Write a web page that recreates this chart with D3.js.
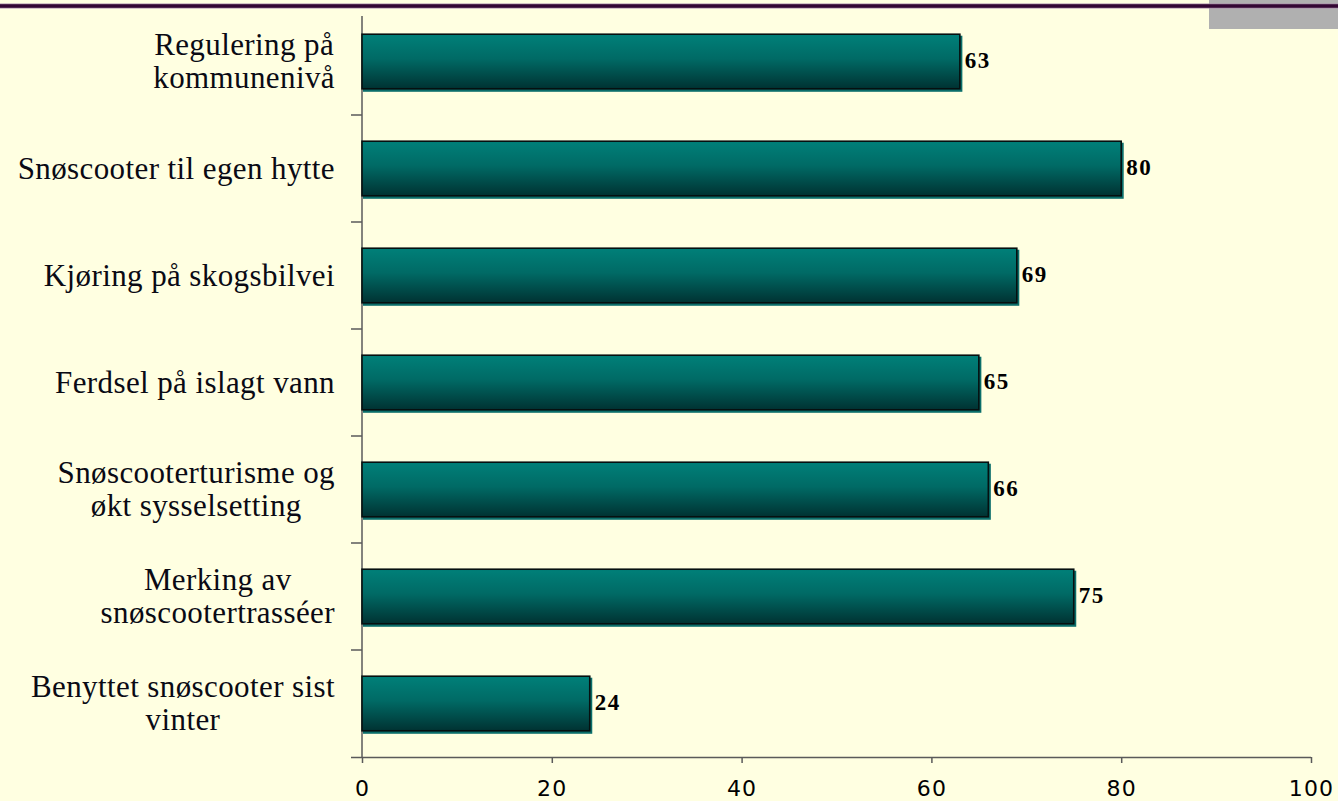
<!DOCTYPE html>
<html>
<head>
<meta charset="utf-8">
<script src="https://cdn.jsdelivr.net/npm/d3@7"></script>
<style>
  html, body { margin: 0; padding: 0; background: #ffffe1; }
  svg { display: block; }
</style>
</head>
<body>
<div id="chart"></div>
<script>
// ── Data ───────────────────────────────────────────────────
const categories = [
  'Regulering på\nkommunenivå',
  'Snøscooter til egen hytte',
  'Kjøring på skogsbilvei',
  'Ferdsel på islagt vann',
  'Snøscooterturisme og\nøkt sysselsetting',
  'Merking av\nsnøscootertrasséer',
  'Benyttet snøscooter sist\nvinter'
];
const values = [63, 80, 69, 65, 66, 75, 24];
const xTicks = [0, 20, 40, 60, 80, 100];

// ── Layout ─────────────────────────────────────────────────
const W = 1338, H = 801;
const m = { top: 8, right: 27, bottom: 44, left: 362 };
const serif = '"Liberation Serif", "Times New Roman", Times, serif';

const svg = d3.select('#chart').append('svg')
  .attr('width', W)
  .attr('height', H);

svg.append('rect')
  .attr('width', W).attr('height', H)
  .attr('fill', '#ffffe1');

const defs = svg.append('defs');
const grad = defs.append('linearGradient')
  .attr('id', 'barGrad')
  .attr('x1', '0%').attr('y1', '0%')
  .attr('x2', '0%').attr('y2', '100%');
grad.append('stop').attr('offset', '0%').attr('stop-color', '#008079');
grad.append('stop').attr('offset', '45%').attr('stop-color', '#006a65');
grad.append('stop').attr('offset', '100%').attr('stop-color', '#003232');

const x = d3.scaleLinear()
  .domain([0, 100])
  .range([m.left, W - m.right]);

const y = d3.scaleBand()
  .domain(categories)
  .range([m.top, H - m.bottom])
  .paddingInner(0.49)
  .paddingOuter(0.245);

const yStep = (H - m.bottom - m.top) / categories.length;

// ── Slide decoration (top rule + grey tab) ──────────────────
svg.append('rect')
  .attr('x', 1209).attr('y', 0)
  .attr('width', W - 1209).attr('height', 29)
  .attr('fill', '#b0b0b0');
svg.append('line')
  .attr('x1', 0).attr('x2', W)
  .attr('y1', 6).attr('y2', 6)
  .attr('stroke', '#a88ca8').attr('stroke-width', 5);
svg.append('line')
  .attr('x1', 0).attr('x2', W)
  .attr('y1', 6).attr('y2', 6)
  .attr('stroke', '#330633').attr('stroke-width', 3.5);

// ── Axes ───────────────────────────────────────────────────
const axisColor = '#5a5a5a';
const yBottom = H - m.bottom;

// y axis line + category separator ticks
svg.append('line')
  .attr('x1', m.left).attr('x2', m.left)
  .attr('y1', m.top + 8).attr('y2', yBottom)
  .attr('stroke', axisColor).attr('stroke-width', 1.5);

svg.selectAll('.ytick')
  .data(d3.range(1, categories.length))
  .join('line')
  .attr('class', 'ytick')
  .attr('x1', m.left - 11).attr('x2', m.left)
  .attr('y1', i => m.top + yStep * i)
  .attr('y2', i => m.top + yStep * i)
  .attr('stroke', axisColor).attr('stroke-width', 1.5);

// x axis via d3.axisBottom
const xAxis = svg.append('g')
  .attr('transform', `translate(0,${yBottom})`)
  .call(d3.axisBottom(x).tickValues(xTicks).tickSize(6).tickSizeOuter(0).tickPadding(17));
xAxis.select('.domain')
  .attr('d', `M${m.left - 11},0.5H${x(100)}`)
  .attr('stroke', axisColor).attr('stroke-width', 1.5);
xAxis.selectAll('.tick line')
  .attr('stroke', axisColor).attr('stroke-width', 1.5);
xAxis.selectAll('.tick text')
  .attr('fill', '#000')
  .attr('font-family', '"DejaVu Sans", Verdana, sans-serif')
  .attr('font-size', 22)
  .attr('letter-spacing', 1.2);

// ── Bars ───────────────────────────────────────────────────
const rows = categories.map((c, i) => ({ c, v: values[i] }));

// thin teal shadow on the right/bottom edges
svg.selectAll('.bar-shadow')
  .data(rows).join('rect')
  .attr('class', 'bar-shadow')
  .attr('x', m.left + 1)
  .attr('y', d => y(d.c) + 1.5)
  .attr('width', d => x(d.v) - m.left + 1.5)
  .attr('height', y.bandwidth() + 1.5)
  .attr('fill', '#0b6e6a');

svg.selectAll('.bar')
  .data(rows).join('rect')
  .attr('class', 'bar')
  .attr('x', m.left)
  .attr('y', d => y(d.c))
  .attr('width', d => x(d.v) - m.left)
  .attr('height', y.bandwidth())
  .attr('fill', 'url(#barGrad)')
  .attr('stroke', '#061010')
  .attr('stroke-width', 1.6);

// value labels
svg.selectAll('.val')
  .data(rows).join('text')
  .attr('class', 'val')
  .attr('x', d => x(d.v) + 5)
  .attr('y', d => y(d.c) + y.bandwidth() / 2 + 6)
  .attr('font-family', serif)
  .attr('font-weight', 'bold')
  .attr('font-size', 23)
  .attr('letter-spacing', 1.5)
  .attr('fill', '#000')
  .text(d => d.v);

// ── Category labels (centered lines, right-aligned block) ──
const labelRight = 335;
const lineH = 33;
const labels = svg.selectAll('.cat')
  .data(rows).join('text')
  .attr('class', 'cat')
  .attr('font-family', serif)
  .attr('font-size', 31)
  .attr('letter-spacing', 0.4)
  .attr('fill', '#0a0a14');

labels.each(function (d) {
  const t = d3.select(this);
  const lines = d.c.split('\n');
  const cy = y(d.c) + y.bandwidth() / 2;
  const first = cy - (lines.length - 1) * lineH / 2 + 10;
  lines.forEach((ln, k) => {
    t.append('tspan')
      .attr('y', first + k * lineH)
      .text(ln);
  });
  // block right edge at labelRight, lines centered on each other
  const widths = [];
  t.selectAll('tspan').each(function () { widths.push(this.getComputedTextLength()); });
  const maxW = d3.max(widths);
  const mid = labelRight - maxW / 2;
  t.selectAll('tspan').attr('x', mid).attr('text-anchor', 'middle');
});
</script>
</body>
</html>
